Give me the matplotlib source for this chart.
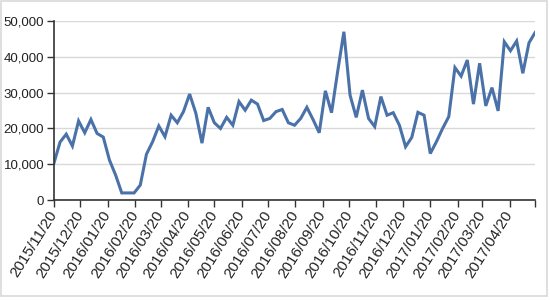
import numpy as np
import pandas as pd
import matplotlib
matplotlib.use("Agg")
import matplotlib.pyplot as plt
import matplotlib.transforms as mtransforms
from matplotlib.patches import Rectangle

# weekly observations starting 2015/11/20
start_date = "2015-11-20"
values = [
    10300, 16200, 18400, 15100, 22100, 18800, 22500, 18600, 17600, 11200,
    7000, 2000, 2000, 2000, 4200, 12800, 16300, 20700, 17700, 23700,
    21600, 24700, 29600, 24300, 15900, 25900, 21600, 20000, 23100, 20900,
    27500, 25100, 27900, 26800, 22200, 22800, 24700, 25300, 21600, 20900,
    22800, 25900, 22500, 18800, 30500, 24400, 36000, 47000, 29300, 23100,
    30700, 22800, 20500, 28900, 23700, 24400, 20900, 14900, 17500, 24500,
    23700, 13000, 16300, 20000, 23300, 37000, 34600, 39100, 26800, 38200,
    26300, 31400, 24900, 44200, 41700, 44400, 35400, 43900, 46800,
]
tick_dates = ["2015-11-20", "2015-12-20", "2016-01-20", "2016-02-20", "2016-03-20",
              "2016-04-20", "2016-05-20", "2016-06-20", "2016-07-20", "2016-08-20",
              "2016-09-20", "2016-10-20", "2016-11-20", "2016-12-20", "2017-01-20",
              "2017-02-20", "2017-03-20", "2017-04-20"]
y_ticks = [0, 10000, 20000, 30000, 40000, 50000]

dates = pd.date_range(start_date, periods=len(values), freq="7D")
ticks = pd.to_datetime(tick_dates)

plt.rcParams['font.family'] = ['Liberation Sans', 'DejaVu Sans']

fig = plt.figure(figsize=(5.5, 3.0), dpi=100)
fig.patches.append(Rectangle((0.002, 0.013), 0.992, 0.983, transform=fig.transFigure,
                             fill=False, edgecolor="#d9d9d9", linewidth=1.2))
ax = fig.add_axes([0.098, 0.333, 0.875, 0.597])

ax.plot(dates, values, color="#4a72a8", linewidth=2.2, solid_joinstyle="miter")

ax.set_xlim(dates[0], dates[-1])
ax.set_ylim(0, 50000)
ax.set_yticks(y_ticks)
ax.set_yticklabels([f"{v:,}" for v in y_ticks], fontsize=9.5, color="#222222")
ax.yaxis.grid(True, color="#d9d9d9", linewidth=1.0)
ax.set_axisbelow(True)

ax.set_xticks(list(ticks) + [dates[-1]])
ax.set_xticklabels([d.strftime("%Y/%m/%d") for d in ticks] + [""], fontsize=11,
                   color="#222222", rotation=58, ha="right", va="center",
                   rotation_mode="anchor")
offset = mtransforms.ScaledTranslation(6 / 100, -4 / 100, fig.dpi_scale_trans)
for lab in ax.get_xticklabels():
    lab.set_transform(lab.get_transform() + offset)

for side in ["top", "right"]:
    ax.spines[side].set_visible(False)
for side in ["left", "bottom"]:
    ax.spines[side].set_color("#333333")
    ax.spines[side].set_linewidth(1.2)
ax.tick_params(axis="both", direction="out", length=5, width=1.0, color="#333333")
ax.tick_params(axis="y", pad=2)

fig.savefig("out.png", dpi=100)
